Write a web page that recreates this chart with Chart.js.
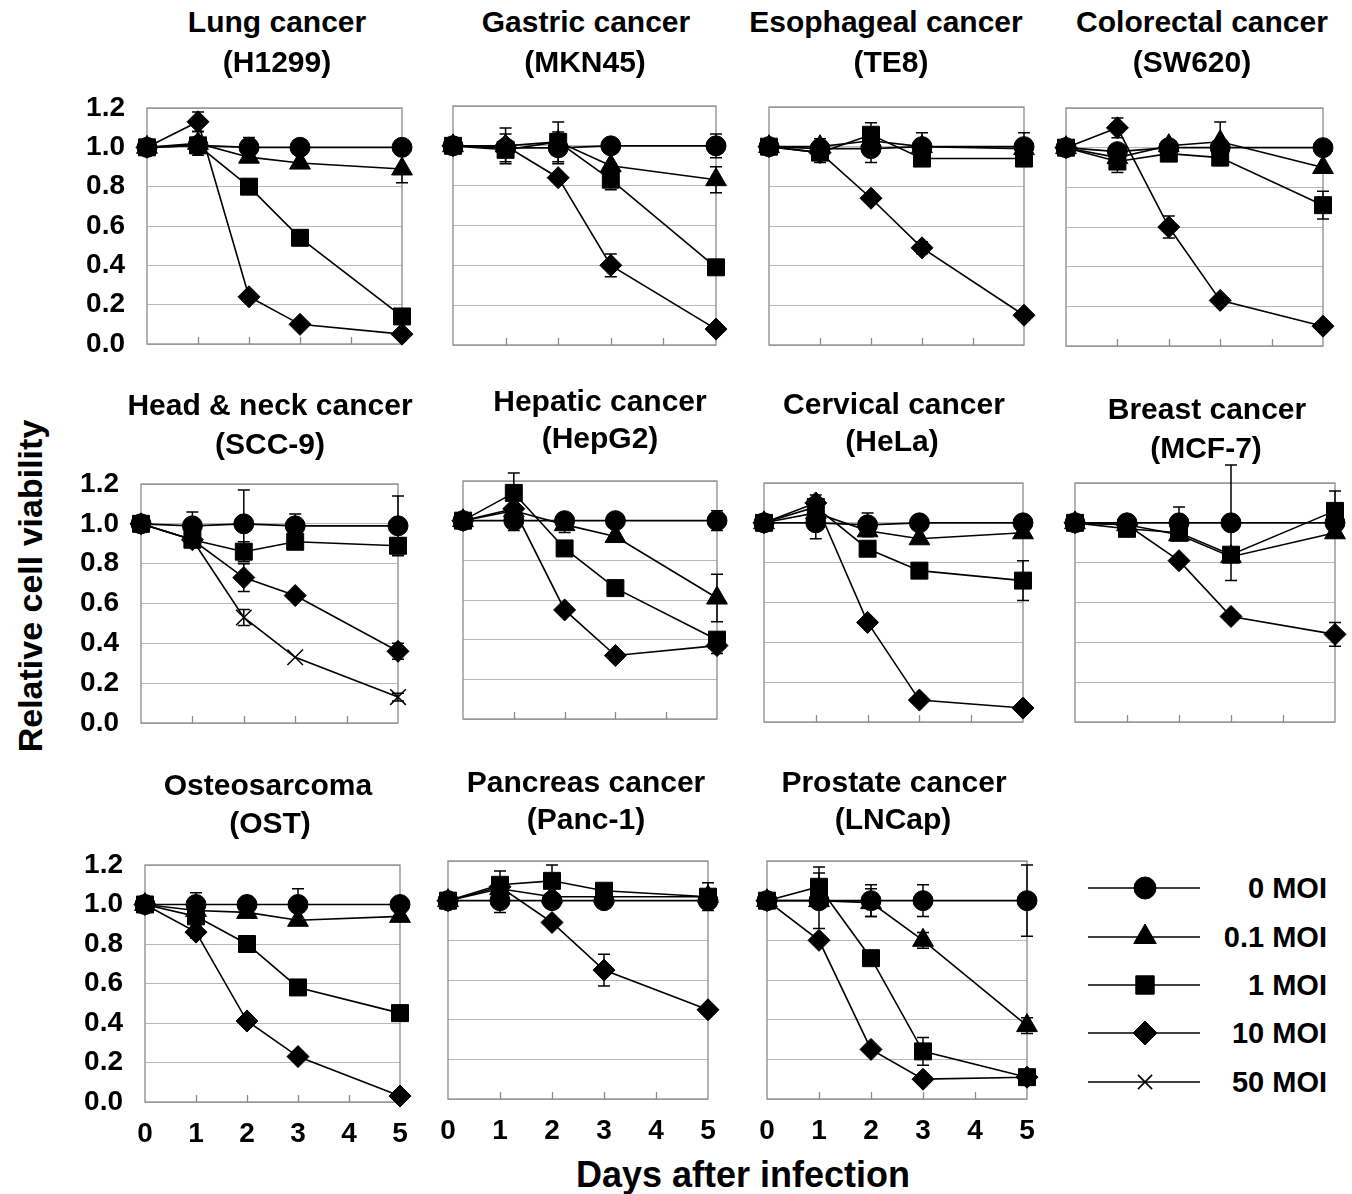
<!DOCTYPE html>
<html>
<head>
<meta charset="utf-8">
<script src="https://cdn.jsdelivr.net/npm/chart.js@4.4.1/dist/chart.umd.min.js"></script>
<style>
  body { margin: 0; background: #fff; }
  #wrap { position: relative; width: 1352px; height: 1194px; overflow: hidden;
          font-family: "Liberation Sans", Arial, sans-serif; font-weight: bold; color: #000; }
  .t { position: absolute; white-space: nowrap; transform: translate(-50%, -50%); font-size: 30px; line-height: 1; }
  .leg { position: absolute; white-space: nowrap; transform: translateY(-50%); font-size: 29px; line-height: 1; }
  canvas.p { position: absolute; }
</style>
</head>
<body>
<div id="wrap"></div>
<script>
// DATI
const days = [0, 1, 2, 3, 5];
const xTicks = [0, 1, 2, 3, 4, 5];
const yTicks = [0, 0.2, 0.4, 0.6, 0.8, 1.0, 1.2];
const seriesNames = ['0 MOI', '0.1 MOI', '1 MOI', '10 MOI', '50 MOI'];

// righe: 0 MOI, 0.1 MOI, 1 MOI, 10 MOI, 50 MOI
const lungVals = [
  [1.00, 1.01, 1.00, 1.00, 1.00],
  [1.00, 1.02, 0.95, 0.92, 0.89],
  [1.00, 1.01, 0.80, 0.54, 0.14],
  [1.00, 1.13, 0.24, 0.10, 0.05],
  null
];
const gastricVals = [
  [1.00, 0.99, 0.99, 1.00, 1.00],
  [1.00, 1.00, 1.02, 0.90, 0.83],
  [1.00, 0.98, 1.02, 0.83, 0.39],
  [1.00, 1.00, 0.84, 0.40, 0.08],
  null
];
const esophVals = [
  [1.00, 0.99, 0.99, 1.00, 1.00],
  [1.00, 1.00, 1.03, 1.00, 0.99],
  [1.00, 0.97, 1.06, 0.94, 0.94],
  [1.00, 0.97, 0.74, 0.49, 0.15],
  null
];
const colorectVals = [
  [1.00, 0.98, 1.00, 1.00, 1.00],
  [1.00, 0.95, 1.01, 1.03, 0.90],
  [1.00, 0.93, 0.97, 0.95, 0.71],
  [1.00, 1.10, 0.60, 0.23, 0.10],
  null
];
const headNeckVals = [
  [1.00, 0.99, 1.00, 0.99, 0.99],
  null,
  [1.00, 0.92, 0.86, 0.91, 0.89],
  [1.00, 0.92, 0.73, 0.64, 0.36],
  [1.00, 0.92, 0.53, 0.33, 0.13]
];
const hepaticVals = [
  [1.00, 1.00, 1.00, 1.00, 1.00],
  [1.00, 1.05, 0.98, 0.92, 0.61],
  [1.00, 1.14, 0.86, 0.66, 0.40],
  [1.00, 1.06, 0.55, 0.32, 0.37],
  null
];
const cervicalVals = [
  [1.00, 1.00, 0.99, 1.00, 1.00],
  [1.00, 1.05, 0.96, 0.92, 0.95],
  [1.00, 1.08, 0.87, 0.76, 0.71],
  [1.00, 1.10, 0.50, 0.11, 0.07],
  null
];
const breastVals = [
  [1.00, 1.00, 1.00, 1.00, 1.00],
  [1.00, 0.99, 0.94, 0.83, 0.95],
  [1.00, 0.97, 0.95, 0.84, 1.06],
  [1.00, 0.99, 0.81, 0.53, 0.44],
  null
];
const osteoVals = [
  [1.00, 1.00, 1.00, 1.00, 1.00],
  [1.00, 0.97, 0.96, 0.92, 0.94],
  [1.00, 0.94, 0.80, 0.58, 0.45],
  [1.00, 0.86, 0.41, 0.23, 0.03],
  null
];
const pancreasVals = [
  [1.00, 1.00, 1.00, 1.00, 1.00],
  [1.00, 1.06, 1.02, 1.02, 1.02],
  [1.00, 1.08, 1.10, 1.05, 1.02],
  [1.00, 1.07, 0.89, 0.65, 0.45],
  null
];
const prostateVals = [
  [1.00, 1.00, 1.00, 1.00, 1.00],
  [1.00, 1.00, 0.99, 0.80, 0.37],
  [1.00, 1.07, 0.71, 0.24, 0.11],
  [1.00, 0.80, 0.25, 0.10, 0.11],
  null
];

// barre di errore: [serie, indice giorno, errore]
const lungErr = [[0, 2, 0.05], [1, 1, 0.06], [1, 4, 0.07], [3, 1, 0.05]];
const gastricErr = [[0, 1, 0.07], [1, 1, 0.09], [0, 2, 0.08], [2, 2, 0.10], [0, 4, 0.06], [1, 4, 0.065], [2, 3, 0.05], [3, 3, 0.057]];
const esophErr = [[0, 1, 0.05], [2, 1, 0.05], [0, 2, 0.07], [2, 2, 0.06], [0, 3, 0.07], [0, 4, 0.07], [3, 3, 0.03]];
const colorectErr = [[2, 1, 0.055], [3, 1, 0.05], [0, 2, 0.03], [3, 2, 0.055], [1, 3, 0.10], [2, 3, 0.04], [2, 4, 0.07]];
const headNeckErr = [[0, 1, 0.07], [2, 1, 0.03], [0, 2, 0.17], [2, 2, 0.05], [3, 2, 0.07], [4, 2, 0.04], [0, 3, 0.06], [0, 4, 0.15], [2, 4, 0.04], [3, 4, 0.04], [4, 4, 0.02]];
const hepaticErr = [[0, 1, 0.05], [2, 1, 0.10], [0, 2, 0.04], [1, 2, 0.04], [0, 4, 0.05], [1, 4, 0.12], [3, 4, 0.04]];
const cervicalErr = [[0, 1, 0.08], [3, 1, 0.04], [0, 2, 0.06], [3, 2, 0.02], [2, 4, 0.10]];
const breastErr = [[0, 2, 0.08], [0, 3, 0.29], [2, 4, 0.10], [3, 4, 0.06]];
const osteoErr = [[0, 1, 0.06], [3, 1, 0.03], [0, 2, 0.04], [0, 3, 0.08]];
const pancreasErr = [[0, 1, 0.06], [2, 1, 0.07], [2, 2, 0.08], [3, 3, 0.08], [2, 4, 0.07], [3, 4, 0.02]];
const prostateErr = [[0, 1, 0.14], [2, 1, 0.10], [0, 2, 0.08], [1, 2, 0.07], [0, 3, 0.08], [1, 3, 0.04], [2, 3, 0.07], [0, 4, 0.18], [1, 4, 0.04]];

const panelTitles = [
  ['Lung cancer', '(H1299)'], ['Gastric cancer', '(MKN45)'], ['Esophageal cancer', '(TE8)'], ['Colorectal cancer', '(SW620)'],
  ['Head & neck cancer', '(SCC-9)'], ['Hepatic cancer', '(HepG2)'], ['Cervical cancer', '(HeLa)'], ['Breast cancer', '(MCF-7)'],
  ['Osteosarcoma', '(OST)'], ['Pancreas cancer', '(Panc-1)'], ['Prostate cancer', '(LNCap)']
];
const panelVals = [lungVals, gastricVals, esophVals, colorectVals, headNeckVals, hepaticVals, cervicalVals, breastVals, osteoVals, pancreasVals, prostateVals];
const panelErr = [lungErr, gastricErr, esophErr, colorectErr, headNeckErr, hepaticErr, cervicalErr, breastErr, osteoErr, pancreasErr, prostateErr];

// LAYOUT (area del grafico: left, top, right, bottom)
const plotBoxes = [
  [147, 108, 402, 344], [453, 106, 716, 345], [769, 107, 1024, 345], [1066, 108, 1323, 346],
  [141, 484, 398, 723], [463, 481, 717, 719], [764, 483, 1023, 722], [1075, 483, 1335, 722],
  [145, 865, 400, 1102], [448, 861, 708, 1099], [767, 861, 1027, 1099]
];
// centri dei titoli: [x1, y1, x2, y2]
const titlePos = [
  [277, 22, 277, 62], [586, 22, 585, 62], [886, 22, 891, 62], [1202, 22, 1192, 62],
  [270, 405, 270, 444], [600, 401, 600, 438], [894, 404, 892, 441], [1207, 409, 1206, 448],
  [268, 785, 270, 823], [586, 782, 586, 819], [894, 782, 893, 819]
];
const markers = [
  { pointStyle: 'circle', radius: 10 },
  { pointStyle: 'triangle', radius: 12 },
  { pointStyle: 'rect', radius: 12 },
  { pointStyle: 'rectRot', radius: 11 },
  { pointStyle: 'crossRot', radius: 11 }
];
const FONT = '"Liberation Sans", Arial, sans-serif';
const PADL = 90, PADT = 45, PADR = 30, PADB = 55;

const wrap = document.getElementById('wrap');

function addText(txt, x, y, cls, size) {
  const d = document.createElement('div');
  d.className = cls;
  d.textContent = txt;
  d.style.left = x + 'px';
  d.style.top = y + 'px';
  if (size) d.style.fontSize = size + 'px';
  wrap.appendChild(d);
  return d;
}

// cornice, tacche interne e barre di errore
const panelDecor = {
  id: 'panelDecor',
  beforeDatasetsDraw(chart) {
    const { ctx, chartArea: a, scales: { x, y } } = chart;
    ctx.save();
    ctx.strokeStyle = '#8a8a8a';
    ctx.lineWidth = 1.3;
    ctx.strokeRect(a.left, a.top, a.right - a.left, a.bottom - a.top);
    xTicks.slice(1, -1).forEach(v => {
      const px = Math.round(x.getPixelForValue(v)) + 0.5;
      ctx.beginPath();
      ctx.moveTo(px, a.bottom);
      ctx.lineTo(px, a.bottom - 7);
      ctx.stroke();
    });
    const err = chart.options.plugins.panelDecor.err || [];
    const vals = chart.options.plugins.panelDecor.vals;
    ctx.strokeStyle = '#000';
    ctx.lineWidth = 1.5;
    err.forEach(([s, d, e]) => {
      const v = vals[s][d];
      const px = x.getPixelForValue(days[d]);
      const yTop = y.getPixelForValue(v + e);
      const yBot = y.getPixelForValue(v - e);
      ctx.beginPath();
      ctx.moveTo(px, yTop); ctx.lineTo(px, yBot);
      ctx.moveTo(px - 6, yTop); ctx.lineTo(px + 6, yTop);
      ctx.moveTo(px - 6, yBot); ctx.lineTo(px + 6, yBot);
      ctx.stroke();
    });
    ctx.restore();
  }
};

panelVals.forEach((vals, i) => {
  const [l, t, r, b] = plotBoxes[i];
  const showY = i % 4 === 0;
  const showX = i >= 8;

  const canvas = document.createElement('canvas');
  canvas.className = 'p';
  const w = r - l + PADL + PADR;
  const h = b - t + PADT + PADB;
  canvas.width = w;
  canvas.height = h;
  canvas.style.left = (l - PADL) + 'px';
  canvas.style.top = (t - PADT) + 'px';
  canvas.style.width = w + 'px';
  canvas.style.height = h + 'px';
  wrap.appendChild(canvas);

  const datasets = [];
  vals.forEach((row, s) => {
    if (!row) return;
    datasets.push({
      label: seriesNames[s],
      data: row.map((v, k) => ({ x: days[k], y: v })),
      borderColor: '#000',
      backgroundColor: '#000',
      borderWidth: 1.6,
      pointStyle: markers[s].pointStyle,
      pointRadius: markers[s].radius,
      pointBorderWidth: s === 4 ? 1.5 : 1,
      pointBackgroundColor: '#000',
      pointBorderColor: '#000',
      tension: 0,
      clip: false
    });
  });

  new Chart(canvas, {
    type: 'line',
    data: { datasets },
    options: {
      responsive: false,
      animation: false,
      devicePixelRatio: 1,
      layout: { padding: { top: PADT, right: PADR, left: 0, bottom: 0 } },
      plugins: {
        legend: { display: false },
        tooltip: { enabled: false },
        panelDecor: { err: panelErr[i], vals: vals }
      },
      scales: {
        x: {
          type: 'linear',
          min: xTicks[0],
          max: xTicks[xTicks.length - 1],
          afterFit: s => { s.height = PADB; s.paddingLeft = 0; s.paddingRight = 0; },
          grid: { display: false, drawTicks: false },
          border: { display: false },
          ticks: {
            display: showX,
            stepSize: 1,
            padding: 15,
            color: '#000',
            font: { family: FONT, size: 28, weight: 'bold' }
          }
        },
        y: {
          min: yTicks[0],
          max: yTicks[yTicks.length - 1],
          afterFit: s => { s.width = PADL; s.paddingTop = 0; s.paddingBottom = 0; },
          grid: { color: '#b8b8b8', lineWidth: 1, drawTicks: false },
          border: { display: false },
          ticks: {
            display: showY,
            stepSize: 0.2,
            padding: 22,
            color: '#000',
            font: { family: FONT, size: 28, weight: 'bold' },
            callback: v => Number(v).toFixed(1)
          }
        }
      }
    },
    plugins: [panelDecor]
  });

  const tp = titlePos[i];
  addText(panelTitles[i][0], tp[0], tp[1], 't');
  addText(panelTitles[i][1], tp[2], tp[3], 't');
});

// titoli degli assi
const yTitle = addText('Relative cell viability', 30, 586, 't', 34);
yTitle.style.transform = 'translate(-50%, -50%) rotate(-90deg)';
addText('Days after infection', 743, 1175, 't', 36);

// LEGENDA
const legY = [888, 937, 985, 1033, 1082];
const legCanvas = document.createElement('canvas');
legCanvas.className = 'p';
legCanvas.width = 140;
legCanvas.height = 240;
legCanvas.style.left = '1080px';
legCanvas.style.top = '860px';
wrap.appendChild(legCanvas);
const lctx = legCanvas.getContext('2d');
seriesNames.forEach((name, s) => {
  const yy = legY[s] - 860;
  lctx.strokeStyle = '#000';
  lctx.fillStyle = '#000';
  lctx.lineWidth = 1.6;
  lctx.beginPath();
  lctx.moveTo(8, yy);
  lctx.lineTo(120, yy);
  lctx.stroke();
  lctx.lineWidth = s === 4 ? 1.6 : 1;
  Chart.helpers.drawPoint(lctx, {
    pointStyle: markers[s].pointStyle,
    radius: s === 4 ? 10 : markers[s].radius + 1,
    borderWidth: lctx.lineWidth,
    rotation: 0
  }, 65, yy);
  const d = addText(name, 0, legY[s], 'leg');
  d.style.left = '';
  d.style.right = (1352 - 1327) + 'px';
});
</script>
</body>
</html>
